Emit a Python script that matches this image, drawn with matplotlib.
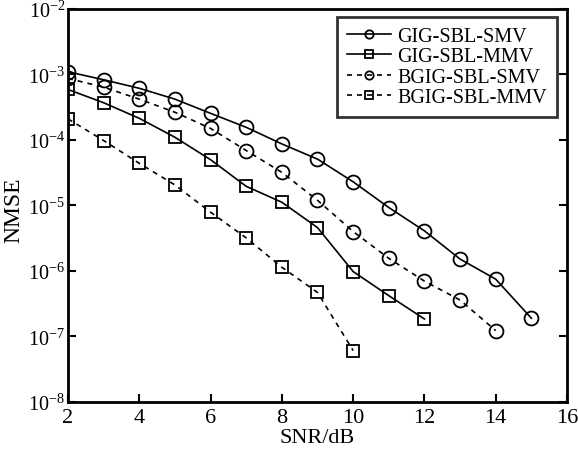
import matplotlib
matplotlib.use("Agg")
import matplotlib.pyplot as plt

plt.rcParams['font.family'] = ['Liberation Serif', 'DejaVu Serif']
plt.rcParams['mathtext.fontset'] = 'stix'

snr_gig_smv = [2, 3, 4, 5, 6, 7, 8, 9, 10, 11, 12, 13, 14, 15]
gig_smv = [1.1e-3, 8.3e-4, 6.15e-4, 4.2e-4, 2.55e-4, 1.56e-4, 8.7e-5, 5.1e-5,
           2.3e-5, 9.3e-6, 4.1e-6, 1.52e-6, 7.5e-7, 1.9e-7]

snr_gig_mmv = [2, 3, 4, 5, 6, 7, 8, 9, 10, 11, 12]
gig_mmv = [5.9e-4, 3.7e-4, 2.14e-4, 1.1e-4, 5.0e-5, 1.96e-5, 1.12e-5, 4.6e-6,
           9.8e-7, 4.2e-7, 1.85e-7]

snr_bgig_smv = [2, 3, 4, 5, 6, 7, 8, 9, 10, 11, 12, 13, 14]
bgig_smv = [8.7e-4, 6.4e-4, 4.2e-4, 2.65e-4, 1.5e-4, 6.9e-5, 3.2e-5, 1.2e-5,
            4.0e-6, 1.56e-6, 7.0e-7, 3.6e-7, 1.23e-7]

snr_bgig_mmv = [2, 3, 4, 5, 6, 7, 8, 9, 10]
bgig_mmv = [2.1e-4, 9.8e-5, 4.4e-5, 2.06e-5, 7.9e-6, 3.2e-6, 1.14e-6, 4.7e-7, 6.1e-8]

labels = ['GIG-SBL-SMV', 'GIG-SBL-MMV', 'BGIG-SBL-SMV', 'BGIG-SBL-MMV']
xticks = [2, 4, 6, 8, 10, 12, 14, 16]

fig = plt.figure(figsize=(5.78, 4.52), dpi=100)
ax = fig.add_axes([0.1176, 0.1084, 0.8634, 0.8696])

dash = (0, (3, 3))
kw = dict(color='black', lw=1.2, markerfacecolor='none', markeredgecolor='black',
          markeredgewidth=1.3)
ax.semilogy(snr_gig_smv, gig_smv, '-', marker='o', ms=10, label=labels[0], **kw)
ax.semilogy(snr_gig_mmv, gig_mmv, '-', marker='s', ms=9, label=labels[1], **kw)
ax.semilogy(snr_bgig_smv, bgig_smv, linestyle=dash, marker='o', ms=10, label=labels[2], **kw)
ax.semilogy(snr_bgig_mmv, bgig_mmv, linestyle=dash, marker='s', ms=9, label=labels[3], **kw)

ax.set_xlim(2, 16)
ax.set_ylim(1e-8, 1e-2)
ax.set_xticks(xticks)
ax.set_xticklabels([str(t) for t in xticks])
ax.set_yticks([1e-8, 1e-7, 1e-6, 1e-5, 1e-4, 1e-3, 1e-2])
ax.yaxis.set_minor_locator(matplotlib.ticker.NullLocator())
ax.tick_params(axis='both', which='major', direction='in', length=6, width=1.5,
               labelsize=16, pad=4)
ax.tick_params(axis='y', labelsize=14.5, pad=2)
ax.tick_params(axis='y', right=True)
for s in ax.spines.values():
    s.set_linewidth(2)

ax.set_xlabel('SNR/dB', fontsize=16, labelpad=1)
ax.set_ylabel('NMSE', fontsize=17)
ax.yaxis.set_label_coords(-0.088, 0.49)

leg = ax.legend(loc='upper right', fontsize=14.5, frameon=True, fancybox=False,
                edgecolor='black', handlelength=2.2, handletextpad=0.3,
                borderpad=0.5, labelspacing=0.05, markerscale=0.6,
                bbox_to_anchor=(0.98, 0.979), borderaxespad=0)
leg.get_frame().set_linewidth(2)

fig.savefig('out.png', dpi=100)
